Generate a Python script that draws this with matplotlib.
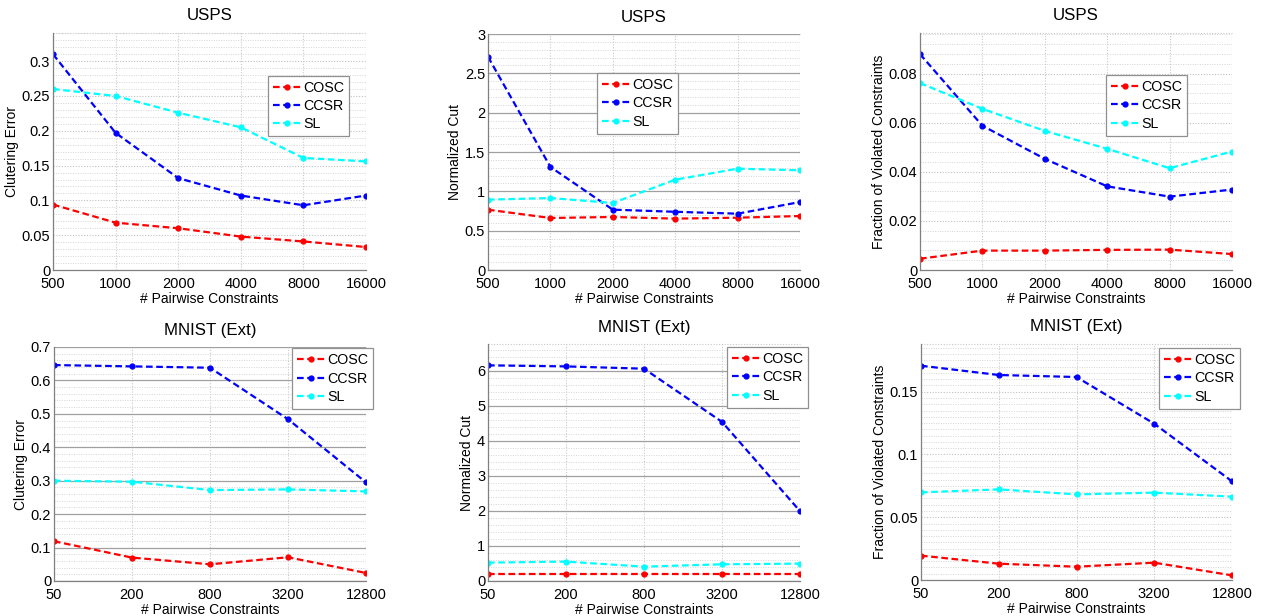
import matplotlib
matplotlib.use("Agg")
import matplotlib.pyplot as plt
from matplotlib.ticker import MultipleLocator
import numpy as np

plt.rcParams['font.family'] = ['Liberation Sans', 'DejaVu Sans']

# ---------------- data ----------------
usps_x = ["500", "1000", "2000", "4000", "8000", "16000"]
mnist_x = ["50", "200", "800", "3200", "12800"]
methods = ["COSC", "CCSR", "SL"]

usps_err_cosc = [0.094, 0.068, 0.060, 0.048, 0.041, 0.033]
usps_err_ccsr = [0.310, 0.197, 0.132, 0.107, 0.093, 0.107]
usps_err_sl = [0.260, 0.250, 0.226, 0.205, 0.161, 0.156]

usps_cut_cosc = [0.767, 0.661, 0.674, 0.653, 0.665, 0.686]
usps_cut_ccsr = [2.71, 1.31, 0.767, 0.740, 0.716, 0.864]
usps_cut_sl = [0.894, 0.915, 0.852, 1.148, 1.288, 1.267]

usps_vio_cosc = [0.0046, 0.0079, 0.0079, 0.0082, 0.0083, 0.0065]
usps_vio_ccsr = [0.0880, 0.0588, 0.0453, 0.0341, 0.0299, 0.0328]
usps_vio_sl = [0.0762, 0.0657, 0.0567, 0.0494, 0.0415, 0.0483]

mnist_err_cosc = [0.119, 0.070, 0.050, 0.071, 0.024]
mnist_err_ccsr = [0.646, 0.642, 0.638, 0.484, 0.295]
mnist_err_sl = [0.300, 0.297, 0.272, 0.274, 0.268]

mnist_cut_cosc = [0.21, 0.21, 0.21, 0.21, 0.21]
mnist_cut_ccsr = [6.16, 6.13, 6.065, 4.546, 1.996]
mnist_cut_sl = [0.525, 0.554, 0.41, 0.477, 0.497]

mnist_vio_cosc = [0.0194, 0.0130, 0.0106, 0.0138, 0.0037]
mnist_vio_ccsr = [0.1707, 0.1633, 0.1617, 0.1245, 0.0786]
mnist_vio_sl = [0.0698, 0.0722, 0.0682, 0.0696, 0.0664]

colors = ["#ff0000", "#0000ff", "#00ffff"]

W, H = 1264, 616
fig = plt.figure(figsize=(W / 100, H / 100), dpi=100)


def px_axes(l, r, t, b):
    return fig.add_axes([l / W, 1 - b / H, (r - l) / W, (b - t) / H])


panels = [
    ((53, 366, 33, 270), "USPS", "Clutering Error", usps_x,
     [usps_err_cosc, usps_err_ccsr, usps_err_sl], (0, 0.3405), 0.05, 0.01, False, (0.687, 0.819)),
    ((488, 800, 34, 270), "USPS", "Normalized Cut", usps_x,
     [usps_cut_cosc, usps_cut_ccsr, usps_cut_sl], (0, 3.0), 0.5, 0.1, True, (0.349, 0.835)),
    ((920, 1232, 33, 270), "USPS", "Fraction of Violated Constraints", usps_x,
     [usps_vio_cosc, usps_vio_ccsr, usps_vio_sl], (0, 0.0966), 0.02, 0.004, False, (0.596, 0.823)),
    ((54, 366, 347, 581), "MNIST (Ext)", "Clutering Error", mnist_x,
     [mnist_err_cosc, mnist_err_ccsr, mnist_err_sl], (0, 0.7), 0.1, 0.02, True, (0.763, 0.994)),
    ((488, 800, 344, 581), "MNIST (Ext)", "Normalized Cut", mnist_x,
     [mnist_cut_cosc, mnist_cut_ccsr, mnist_cut_sl], (0, 6.77), 1, 0.2, True, (0.766, 0.987)),
    ((921, 1232, 344, 580), "MNIST (Ext)", "Fraction of Violated Constraints", mnist_x,
     [mnist_vio_cosc, mnist_vio_ccsr, mnist_vio_sl], (0, 0.188), 0.05, 0.005, False, (0.765, 0.983)),
]

dot = (0, (1, 1.5))
for rect, title, ylabel, xlabels, series, ylim, major, minor, solid, anchor in panels:
    ax = px_axes(*rect)
    xpos = np.arange(len(xlabels))
    for vals, c, name in zip(series, colors, methods):
        ax.plot(xpos, vals, color=c, lw=1.6, dashes=(3.0, 1.6), marker='.',
                markersize=7, label=name)
    ax.set_xlim(0, len(xlabels) - 1)
    ax.set_ylim(*ylim)
    ax.set_xticks(xpos)
    ax.set_xticklabels(xlabels)
    ax.yaxis.set_major_locator(MultipleLocator(major))
    ax.yaxis.set_minor_locator(MultipleLocator(minor))
    ax.yaxis.set_major_formatter(matplotlib.ticker.FuncFormatter(
        lambda v, p: ("%g" % round(v, 6))))
    ax.grid(False)
    ax.xaxis.grid(True, which='major', color='#c8c8c8', lw=0.8, ls=dot)
    if solid:
        ax.yaxis.grid(True, which='major', color='#a0a0a0', lw=0.9, ls='-')
    else:
        ax.yaxis.grid(True, which='major', color='#c0c0c0', lw=0.8, ls=dot)
    ax.yaxis.grid(True, which='minor', color='#d4d4d4', lw=0.7, ls=dot)
    ax.set_axisbelow(True)
    for s in ['top', 'right']:
        ax.spines[s].set_visible(False)
    for s in ['left', 'bottom']:
        ax.spines[s].set_color('#808080')
        ax.spines[s].set_linewidth(0.9)
    ax.axhline(ylim[1], color='#c8c8c8', lw=0.8, ls=dot, clip_on=False, zorder=0)
    ax.axvline(len(xlabels) - 1, color='#c8c8c8', lw=0.8, ls=dot, zorder=0)
    ax.tick_params(axis='both', which='both', direction='in', length=0,
                   labelsize=10.5, colors='black', pad=2)
    ax.tick_params(axis='x', pad=5)
    ax.set_title(title, fontsize=12.2, pad=9)
    ax.set_xlabel("# Pairwise Constraints", fontsize=10, labelpad=1)
    ax.set_ylabel(ylabel, fontsize=10, labelpad=2)
    leg = ax.legend(loc='upper left', bbox_to_anchor=anchor, borderaxespad=0,
                    fontsize=10.3, frameon=True, fancybox=False, handlelength=2.0,
                    handletextpad=0.1, borderpad=0.35, labelspacing=0.3,
                    markerscale=1.0)
    leg.get_frame().set_edgecolor('#909090')
    leg.get_frame().set_linewidth(0.9)
    leg.get_frame().set_alpha(1)

fig.savefig("out.png", dpi=100)
